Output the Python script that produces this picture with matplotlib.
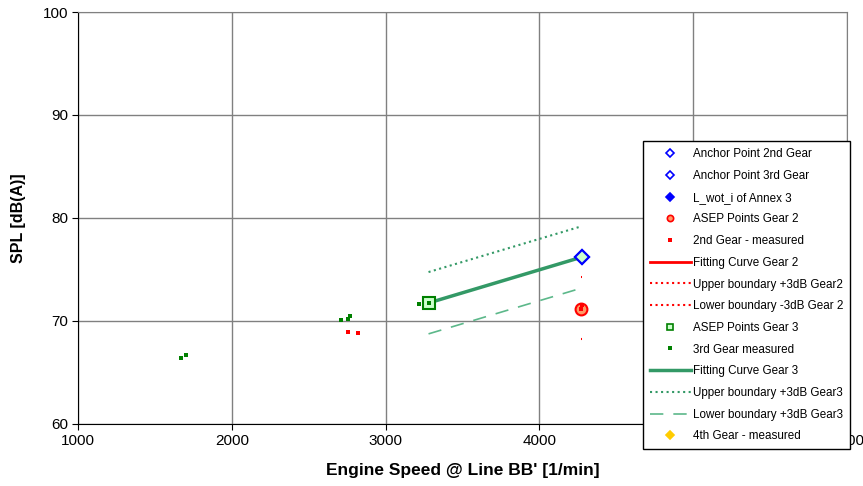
import matplotlib
matplotlib.use('Agg')
import matplotlib.pyplot as plt

plt.rcParams['font.family'] = ['Liberation Sans', 'DejaVu Sans']

# datos
anchor2_x, anchor2_y = [4275], [76.2]
anchor3_x, anchor3_y = [4275], [76.2]
lwot_x, lwot_y = [], []
asep2_x, asep2_y = [4270], [71.2]
gear2_x = [2758, 2823, 4268, 4275]
gear2_y = [68.9, 68.8, 71.2, 71.6]
fit2_x, fit2_y = [4272, 4276], [71.3, 71.3]
up2_x, up2_y = [4272, 4276], [74.3, 74.3]
low2_x, low2_y = [4272, 4276], [68.3, 68.3]
asep3_x, asep3_y = [3279], [71.75]
gear3_x = [1670, 1703, 2712, 2758, 2771, 3220, 3279]
gear3_y = [66.4, 66.7, 70.1, 70.2, 70.5, 71.65, 71.75]
fit3_x, fit3_y = [3279, 4275], [71.75, 76.2]
up3_x, up3_y = [3279, 4275], [74.75, 79.2]
low3_x, low3_y = [3279, 4275], [68.75, 73.2]
gear4_x, gear4_y = [], []

x_ticks = [1000, 2000, 3000, 4000, 5000, 6000]
x_labels = ['1000', '2000', '3000', '4000', '', '6000']  # 5000 queda tapado por la leyenda
y_ticks = [60, 70, 80, 90, 100]

fig = plt.figure(figsize=(8.63, 4.86), dpi=100)
ax = fig.add_axes([0.0904, 0.1276, 0.8911, 0.8477])

green = '#339966'
l_up3, = ax.plot(up3_x, up3_y, ls=':', color=green, lw=1.5, zorder=3)
l_low3, = ax.plot(low3_x, low3_y, ls=(0, (8, 6)), color='#5cb88a', lw=1.2, zorder=3)
l_fit3, = ax.plot(fit3_x, fit3_y, ls='-', color=green, lw=2.5, zorder=3)
l_fit2, = ax.plot(fit2_x, fit2_y, ls='-', color='red', lw=2, zorder=3)
l_up2, = ax.plot(up2_x, up2_y, ls=':', color='red', lw=1.5, zorder=3)
l_low2, = ax.plot(low2_x, low2_y, ls=':', color='red', lw=1.5, zorder=3)

h_a2, = ax.plot(anchor2_x, anchor2_y, 'D', ms=7.5, mec='blue', mfc='white', mew=1.5, ls='none', zorder=5)
h_a3, = ax.plot(anchor3_x, anchor3_y, 'D', ms=7.5, mec='blue', mfc='white', mew=1.5, ls='none', zorder=5)
h_lw, = ax.plot(lwot_x, lwot_y, 'D', ms=7.5, mec='blue', mfc='blue', ls='none', zorder=5)
h_as2, = ax.plot(asep2_x, asep2_y, 'o', ms=8.5, mec='red', mfc='#ff9966', mew=1.5, ls='none', zorder=4)
h_g2, = ax.plot(gear2_x, gear2_y, 's', ms=3.5, color='red', mew=0, ls='none', zorder=6)
h_as3, = ax.plot(asep3_x, asep3_y, 's', ms=9, mec='#008000', mfc='#ccffcc', mew=1.5, ls='none', zorder=4)
h_g3, = ax.plot(gear3_x, gear3_y, 's', ms=3.5, color='#008000', mew=0, ls='none', zorder=6)
h_g4, = ax.plot(gear4_x, gear4_y, 'D', ms=7, color='#ffcc00', ls='none', zorder=5)

handles = [h_a2, h_a3, h_lw, h_as2, h_g2, l_fit2, l_up2, l_low2,
           h_as3, h_g3, l_fit3, l_up3, l_low3, h_g4]
labels = ['Anchor Point 2nd Gear', 'Anchor Point 3rd Gear', 'L_wot_i of Annex 3',
          'ASEP Points Gear 2', '2nd Gear - measured', 'Fitting Curve Gear 2',
          'Upper boundary +3dB Gear2', 'Lower boundary -3dB Gear 2',
          'ASEP Points Gear 3', '3rd Gear measured', 'Fitting Curve Gear 3',
          'Upper boundary +3dB Gear3', 'Lower boundary +3dB Gear3', '4th Gear - measured']

leg = ax.legend(handles, labels, loc='upper left', bbox_to_anchor=(0.745, 0.709),
                bbox_transform=fig.transFigure, fontsize=8.4, frameon=True,
                fancybox=False, edgecolor='black', framealpha=1, borderaxespad=0,
                labelspacing=0.83, handlelength=3.5, handletextpad=0.15,
                borderpad=0.6, numpoints=1)
leg.get_frame().set_linewidth(1.0)
# marcadores mas chicos en la leyenda
for h in leg.legend_handles:
    if h.get_marker() in ('D', 'o', 's') and h.get_markersize() > 6:
        h.set_markersize(4.5)
        h.set_markeredgewidth(1.2)
# relleno verde claro del ancla en el grafico (no en la leyenda)
h_a3.set_markerfacecolor('#ccffcc')

ax.set_xlim(1000, 6000)
ax.set_ylim(60, 100)
ax.set_xticks(x_ticks)
ax.set_xticklabels(x_labels)
ax.set_yticks(y_ticks)
ax.grid(True, color='#808080', lw=1)
ax.set_axisbelow(True)
for s in ['top', 'right']:
    ax.spines[s].set_color('#808080')
for s in ['left', 'bottom']:
    ax.spines[s].set_color('black')
ax.tick_params(direction='out', length=4, labelsize=11, pad=3)

ax.set_xlabel("Engine Speed @ Line BB' [1/min]", fontsize=12.5, fontweight='bold', labelpad=11)
ax.set_ylabel('SPL [dB(A)]', fontsize=11.5, fontweight='bold', labelpad=12)

fig.savefig('out.png', dpi=100)
